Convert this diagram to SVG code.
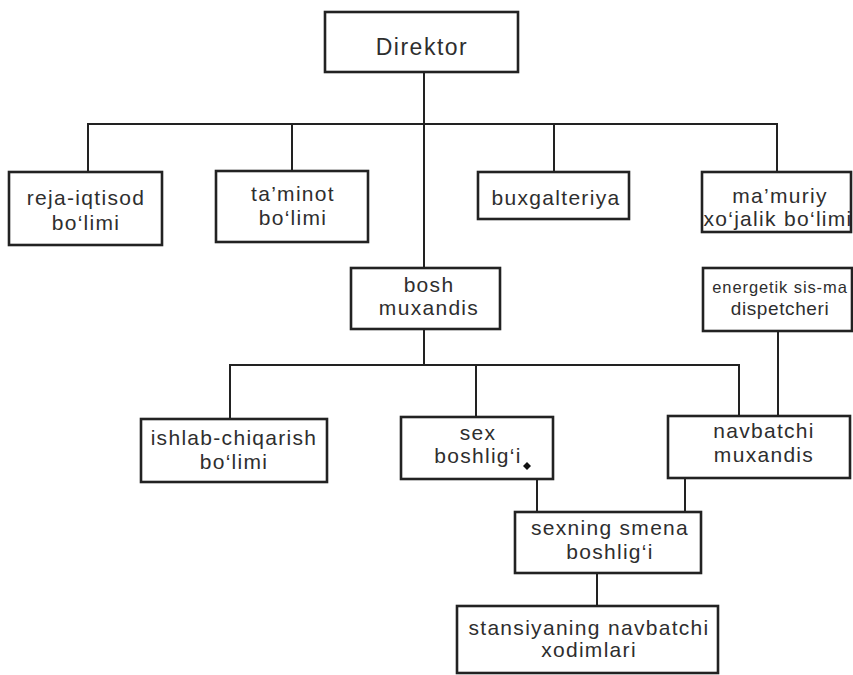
<svg xmlns="http://www.w3.org/2000/svg" width="853" height="675" viewBox="0 0 853 675">
<style>
.box{fill:#fff;stroke:#222;stroke-width:2.6}
.ln{fill:none;stroke:#222;stroke-width:2}
text{font-family:"Liberation Sans",Arial,sans-serif;font-size:21px;letter-spacing:1.3px;fill:#2e2e2e;text-anchor:middle}
.big{font-size:23px;letter-spacing:1.5px}
.sm{font-size:16.5px;letter-spacing:0.9px}
.md{font-size:19px;letter-spacing:0.6px}
</style>
<rect width="853" height="675" fill="#fff"/>
<g id="connectors">
<path class="ln" d="M424 72V268"/>
<path class="ln" d="M88 172V124H777V172"/>
<path class="ln" d="M292 124V172"/>
<path class="ln" d="M554 124V172"/>
<path class="ln" d="M424 329V365"/>
<path class="ln" d="M230 419V365H739V416"/>
<path class="ln" d="M476 365V417"/>
<path class="ln" d="M778 331V416"/>
<path class="ln" d="M537 479V512"/>
<path class="ln" d="M685 478V512"/>
<path class="ln" d="M597 573V606"/>
</g>
<g id="direktor">
<rect class="box" x="325" y="12" width="193" height="60"/>
<text class="big" x="422" y="55">Direktor</text>
</g>
<g id="reja">
<rect class="box" x="9" y="172" width="153" height="73"/>
<text x="86" y="205">reja-iqtisod</text>
<text x="86" y="230">bo‘limi</text>
</g>
<g id="taminot">
<rect class="box" x="216" y="171" width="152" height="71"/>
<text x="293" y="201">ta’minot</text>
<text x="293" y="225">bo‘limi</text>
</g>
<g id="buxgalteriya">
<rect class="box" x="478" y="172" width="151" height="47"/>
<text x="556" y="205">buxgalteriya</text>
</g>
<g id="mamuriy">
<rect class="box" x="702" y="172" width="149" height="60"/>
<text x="780" y="203">ma’muriy</text>
<text x="778" y="226">xo‘jalik bo‘limi</text>
</g>
<g id="bosh">
<rect class="box" x="351" y="268" width="149" height="61"/>
<text x="429" y="292">bosh</text>
<text x="429" y="315">muxandis</text>
</g>
<g id="energetik">
<rect class="box" x="703" y="268" width="149" height="63"/>
<text class="sm" x="780" y="293">energetik sis-ma</text>
<text class="md" x="780" y="315">dispetcheri</text>
</g>
<g id="ishlab">
<rect class="box" x="141" y="419" width="186" height="63"/>
<text x="234" y="445">ishlab-chiqarish</text>
<text x="234" y="469">bo‘limi</text>
</g>
<g id="sex">
<rect class="box" x="401" y="417" width="152" height="62"/>
<text x="478" y="440">sex</text>
<text x="478" y="463">boshlig‘i</text>
<path d="M527 462L531 466L527 470L523 466Z" fill="#111"/>
</g>
<g id="navbatchi">
<rect class="box" x="668" y="416" width="182" height="62"/>
<text x="764" y="438">navbatchi</text>
<text x="764" y="462">muxandis</text>
</g>
<g id="sexning">
<rect class="box" x="515" y="512" width="186" height="61"/>
<text x="610" y="535">sexning smena</text>
<text x="610" y="559">boshlig‘i</text>
</g>
<g id="stansiyaning">
<rect class="box" x="457" y="606" width="261" height="67"/>
<text x="589" y="635">stansiyaning navbatchi</text>
<text x="589" y="657">xodimlari</text>
</g>
</svg>
